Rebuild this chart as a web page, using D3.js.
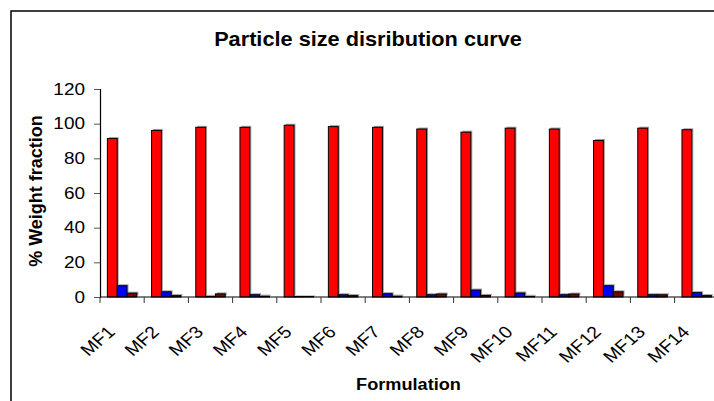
<!DOCTYPE html>
<html>
<head>
<meta charset="utf-8">
<script src="https://cdn.jsdelivr.net/npm/d3@7"></script>
<style>
  body { margin: 0; background: #fff; }
  text { font-family: Arial, "Liberation Sans", sans-serif; fill: #000; }
</style>
</head>
<body>
<div id="chart"></div>
<script>
// data
var formulations = ["MF1", "MF2", "MF3", "MF4", "MF5", "MF6", "MF7", "MF8", "MF9", "MF10", "MF11", "MF12", "MF13", "MF14"];
var seriesNames = ["fraction1", "fraction2", "fraction3"];
var fraction1 = [91.4, 96.1, 97.9, 97.9, 99.1, 98.3, 97.9, 96.9, 95.1, 97.4, 96.9, 90.3, 97.4, 96.5];
var fraction2 = [6.5, 3.0, 0.4, 1.3, 0.3, 1.3, 1.9, 1.3, 4.0, 2.3, 1.3, 6.5, 1.3, 2.5];
var fraction3 = [2.2, 0.8, 1.8, 0.5, 0.3, 0.8, 0.5, 1.7, 0.9, 0.4, 1.7, 3.0, 1.3, 0.8];
var yTicks = [0, 20, 40, 60, 80, 100, 120];
var colors = ["#ff0000", "#0000ff", "#800000"];

var svgWidth = 714;
var svgHeight = 401;
var margin = { top: 89, left: 100, bottom: 104 };
var plotWidth = 14 * 44.2;
var height = svgHeight - margin.top - margin.bottom;
var stretch = 1.15;

var svg = d3.select("#chart")
  .append("svg")
  .attr("width", svgWidth)
  .attr("height", svgHeight);

// frame of the chart area (runs off the right and bottom edge)
svg.append("rect")
  .attr("x", 11)
  .attr("y", 11)
  .attr("width", 720)
  .attr("height", 400)
  .attr("fill", "none")
  .attr("stroke", "#000")
  .attr("stroke-width", 1.5);

var chartGroup = svg.append("g")
  .attr("transform", `translate(${margin.left}, ${margin.top})`);

// scales
var x0 = d3.scaleBand()
  .domain(formulations)
  .range([0, plotWidth]);
var x1 = d3.scaleBand()
  .domain(seriesNames)
  .range([0, x0.bandwidth()])
  .paddingOuter(0.75);
var yLinearScale = d3.scaleLinear()
  .domain([0, 120])
  .range([height, 0]);

var rows = formulations.map(function(f, i) {
  return { name: f, values: [fraction1[i], fraction2[i], fraction3[i]] };
});

// bars, with a grey drop shadow
var groups = chartGroup.selectAll(".grp")
  .data(rows)
  .enter()
  .append("g")
  .attr("transform", d => `translate(${x0(d.name)}, 0)`);

groups.selectAll(".shadow")
  .data(d => d.values.map((v, j) => ({ key: seriesNames[j], v: v })))
  .enter()
  .append("rect")
  .attr("x", d => x1(d.key) + 1.5)
  .attr("y", d => yLinearScale(d.v) - 1.5)
  .attr("width", x1.bandwidth())
  .attr("height", d => height - yLinearScale(d.v))
  .attr("fill", "#a0a0a0");

groups.selectAll(".bar")
  .data(d => d.values.map((v, j) => ({ key: seriesNames[j], v: v, c: colors[j] })))
  .enter()
  .append("rect")
  .attr("x", d => x1(d.key))
  .attr("y", d => yLinearScale(d.v))
  .attr("width", x1.bandwidth())
  .attr("height", d => height - yLinearScale(d.v))
  .attr("fill", d => d.c)
  .attr("stroke", "#000")
  .attr("stroke-width", 1);

// y axis
var leftAxis = d3.axisLeft(yLinearScale)
  .tickValues(yTicks)
  .tickSize(6)
  .tickPadding(9);
var yAxis = chartGroup.append("g").call(leftAxis);
yAxis.select(".domain").attr("stroke", "#000").attr("stroke-width", 1.2);
yAxis.selectAll(".tick line").attr("stroke", "#555");
yAxis.selectAll(".tick text")
  .attr("font-size", "16.5px")
  .attr("font-family", "Arial, 'Liberation Sans', sans-serif")
  .attr("transform", `scale(${stretch},1)`)
  .attr("x", -15 / stretch);

// x axis: ticks at category boundaries
var xAxisG = chartGroup.append("g")
  .attr("transform", `translate(0, ${height})`);
xAxisG.append("line")
  .attr("x1", 0)
  .attr("x2", plotWidth)
  .attr("stroke", "#000")
  .attr("stroke-width", 1.2);
xAxisG.selectAll(".xtick")
  .data(formulations)
  .enter()
  .append("line")
  .attr("x1", d => x0(d))
  .attr("x2", d => x0(d))
  .attr("y1", 0)
  .attr("y2", 6)
  .attr("stroke", "#333");
xAxisG.selectAll(".xlabel")
  .data(formulations)
  .enter()
  .append("text")
  .attr("transform", d => `translate(${x0(d) + x0.bandwidth() / 2 - 6}, 36) scale(${stretch},1) rotate(-45)`)
  .attr("text-anchor", "end")
  .attr("font-size", "17px")
  .text(d => d);

// titles
svg.append("text")
  .attr("transform", `translate(368, 46) scale(1.06,1)`)
  .attr("text-anchor", "middle")
  .attr("font-size", "20.5px")
  .attr("font-weight", "bold")
  .text("Particle size disribution curve");

svg.append("text")
  .attr("transform", "translate(42, 191) rotate(-90)")
  .attr("text-anchor", "middle")
  .attr("font-size", "18px")
  .attr("font-weight", "bold")
  .text("% Weight fraction");

svg.append("text")
  .attr("transform", "translate(408.5, 390) scale(1.1,1)")
  .attr("text-anchor", "middle")
  .attr("font-size", "16.5px")
  .attr("font-weight", "bold")
  .text("Formulation");
</script>
</body>
</html>
